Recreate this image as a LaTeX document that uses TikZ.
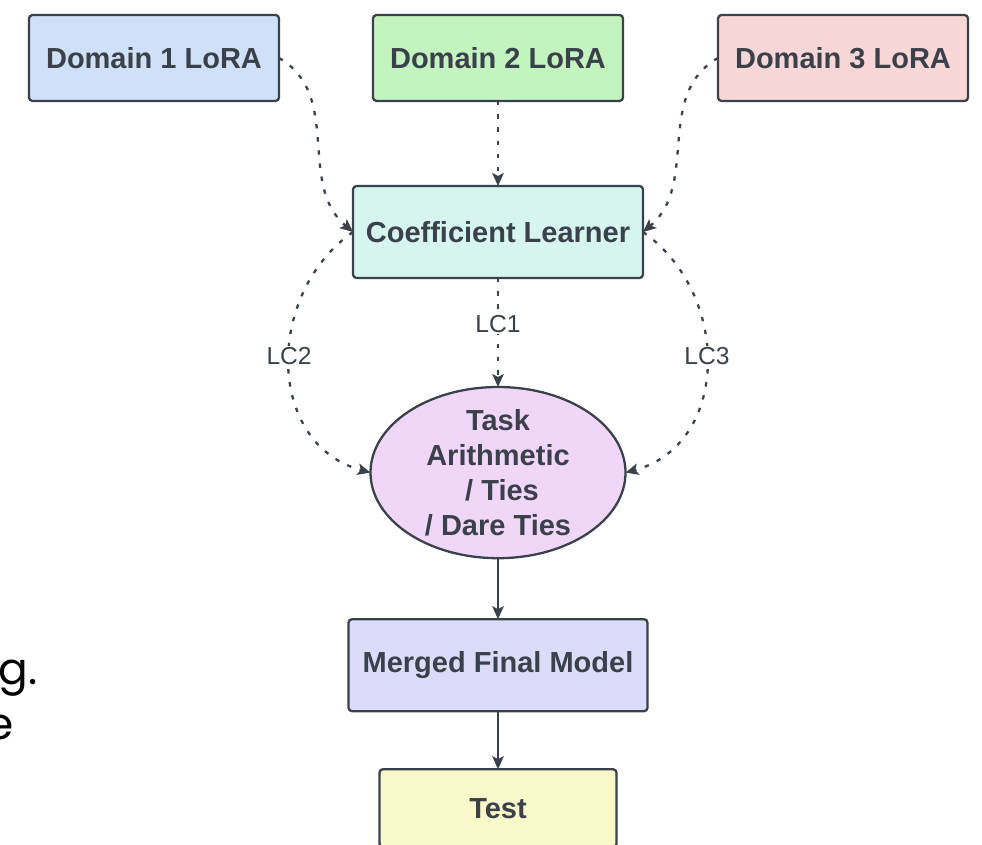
\documentclass[tikz,border=0pt]{standalone}
\usepackage{fontspec}
\setmainfont{Liberation Sans}
\newfontfamily\slidefont{Poppins}
\usetikzlibrary{shapes.geometric, arrows.meta, positioning}
\definecolor{lineclr}{HTML}{3A414A}
\definecolor{txtclr}{HTML}{3A414A}
\definecolor{domblue}{HTML}{CFE0F8}
\definecolor{domgreen}{HTML}{C3F4C0}
\definecolor{dompink}{HTML}{F9D7D6}
\definecolor{coefteal}{HTML}{D6F5EF}
\definecolor{mergeviolet}{HTML}{F0D6F8}
\definecolor{finallav}{HTML}{DCDCFA}
\definecolor{testyellow}{HTML}{F9F8C8}
\newcommand{\diagfont}{\bfseries\fontsize{16.5}{19.8}\selectfont}
\newcommand{\lblfont}{\fontsize{14}{16}\selectfont}

\begin{document}
\begin{tikzpicture}[
    node distance=1.7cm,
    box/.style={draw=lineclr, line width=1.3pt, rounded corners=2pt, outer sep=0pt,
        minimum width=5cm, minimum height=1.72cm, font=\diagfont, text=txtclr},
    flow/.style={draw=lineclr, line width=1.3pt, -{Stealth[length=2.6mm, width=2.3mm, inset=0.6mm]}},
    dots/.style={flow, dash pattern=on 2.5pt off 5pt},
    lc/.style={fill=white, font=\lblfont, text=txtclr, inner sep=1pt},
    frag/.style={font=\slidefont\fontsize{25}{30}\selectfont, anchor=base east, inner sep=0pt}
]
    \useasboundingbox (0,0) rectangle (19.64,-16.9);

    % LoRA inputs
    \node[box, fill=domblue] (dom1) at (3.08,-1.16) {Domain 1 LoRA};
    \node[box, fill=domgreen, right=1.88cm of dom1] (dom2) {Domain 2 LoRA};
    \node[box, fill=dompink, right=1.9cm of dom2] (dom3) {Domain 3 LoRA};

    % Learner and merging
    \node[box, fill=coefteal, minimum width=5.8cm, minimum height=1.84cm, below=1.7cm of dom2] (coef) {Coefficient Learner};
    \node[ellipse, draw=lineclr, line width=1.3pt, fill=mergeviolet, inner xsep=0pt, inner ysep=-1.4pt, outer sep=0pt,
        minimum width=5.1cm, minimum height=3.4cm, align=center, font=\diagfont, text=txtclr,
        below=2.18cm of coef] (task) {Task\\Arithmetic\\\ / Ties\\/ Dare Ties};
    \node[box, fill=finallav, minimum width=5.98cm, minimum height=1.84cm, below=1.22cm of task] (merged) {Merged Final Model};
    \node[box, fill=testyellow, minimum width=4.74cm, minimum height=1.56cm, below=1.16cm of merged] (test) {Test};

    % Arrows
    \draw[dots] (dom1.east) to[out=-30, in=140] (coef.west);
    \draw[dots] (dom2) -- (coef);
    \draw[dots] (dom3.west) to[out=210, in=40] (coef.east);
    \draw[dots] (coef) -- node[lc, pos=0.42] (lc1) {LC1} (task);
    \draw[dots] (coef.west) to[out=215, in=165, looseness=1.15] node[lc, pos=0.47] (lc2) {LC2} (task.west);
    \draw[dots] (coef.east) to[out=-35, in=15, looseness=1.15] node[lc, pos=0.47] (lc3) {LC3} (task.east);
    \draw[flow] (task) -- (merged);
    \draw[flow] (merged) -- (test);

    % Slide text cut off at the left
    \node[frag] (frag1) at (0.76,-13.68) {g.};
    \node[frag] (frag2) at (0.28,-14.78) {e};
\end{tikzpicture}
\end{document}
